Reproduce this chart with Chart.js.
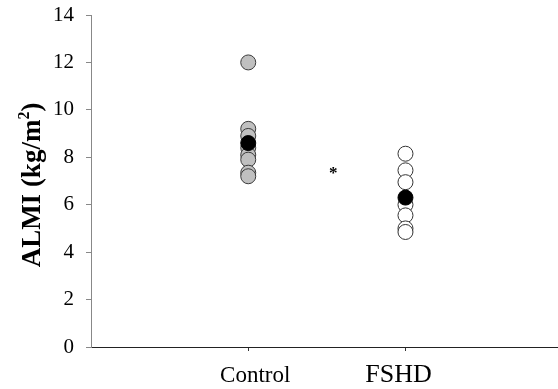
<!DOCTYPE html>
<html>
<head>
<meta charset="utf-8">
<script src="https://cdn.jsdelivr.net/npm/chart.js@4"></script>
<style>
  html, body { margin: 0; padding: 0; background: #fff; }
  #wrap { width: 558px; height: 389px; }
</style>
</head>
<body>
<div id="wrap"><canvas id="almiChart"></canvas></div>
<script>
// groups and their x position on the plot
var groups = ['Control', 'FSHD'];
var groupPos = [1, 2];

// individual subject values (kg/m2)
var controlValues = [12.0, 9.2, 8.9, 8.4, 8.1, 7.9, 7.35, 7.2];
var fshdValues = [8.15, 7.45, 6.95, 6.0, 5.55, 5.0, 4.85];

// group means
var meanValues = [8.6, 6.3];

// y axis ticks
var yTicks = [0, 2, 4, 6, 8, 10, 12, 14];

// significance mark between the groups
var sigMark = { x: 1.54, y: 7.3, text: '*' };

var serif = "'Liberation Serif', 'Times New Roman', serif";

function toPoints(x, values) {
    return values.map(v => ({ x: x, y: v }));
}

// group names under the x axis (each one sits a bit off its tick)
var groupLabelStyle = [
    { size: 23, shift: 7 },
    { size: 26, shift: -7 }
];

var labelPlugin = {
    id: 'labelPlugin',
    afterDraw(chart) {
        var ctx = chart.ctx;
        var xs = chart.scales.x;
        var area = chart.chartArea;
        ctx.save();
        ctx.fillStyle = '#000';
        ctx.textAlign = 'center';
        ctx.textBaseline = 'alphabetic';
        groups.forEach((g, i) => {
            var st = groupLabelStyle[i];
            ctx.font = st.size + 'px ' + serif;
            ctx.fillText(g, xs.getPixelForValue(groupPos[i]) + st.shift, area.bottom + 35);
        });

        // y axis title with a real superscript
        var main = 'ALMI (kg/m', sup = '2', tail = ')';
        var bigFont = 'bold 27px ' + serif, supFont = 'bold 16px ' + serif;
        ctx.font = bigFont;
        var w1 = ctx.measureText(main).width, w3 = ctx.measureText(tail).width;
        ctx.font = supFont;
        var w2 = ctx.measureText(sup).width;
        var total = w1 + w2 + w3;
        ctx.translate(40, (area.top + area.bottom) / 2 + 4);
        ctx.rotate(-Math.PI / 2);
        ctx.textAlign = 'left';
        var x0 = -total / 2;
        ctx.font = bigFont;
        ctx.fillText(main, x0, 0);
        ctx.font = supFont;
        ctx.fillText(sup, x0 + w1, -11);
        ctx.font = bigFont;
        ctx.fillText(tail, x0 + w1 + w2, 0);
        ctx.restore();
    },
    afterDatasetsDraw(chart) {
        var ctx = chart.ctx;
        var px = chart.scales.x.getPixelForValue(sigMark.x);
        var py = chart.scales.y.getPixelForValue(sigMark.y);
        ctx.save();
        ctx.fillStyle = '#000';
        ctx.font = 'bold 17px ' + serif;
        ctx.textAlign = 'center';
        ctx.textBaseline = 'middle';
        ctx.fillText(sigMark.text, px, py);
        ctx.restore();
    }
};

var chart = new Chart(document.getElementById('almiChart'), {
    type: 'scatter',
    data: {
        datasets: [
            {
                label: groups[0],
                data: toPoints(groupPos[0], controlValues),
                backgroundColor: '#c0c0c0',
                borderColor: '#3a3a3a',
                borderWidth: 1,
                pointRadius: 7.5,
                order: 1
            },
            {
                label: groups[1],
                data: toPoints(groupPos[1], fshdValues),
                backgroundColor: '#ffffff',
                borderColor: '#333333',
                borderWidth: 1,
                pointRadius: 7.5,
                order: 1
            },
            {
                label: 'Mean',
                data: groupPos.map((x, i) => ({ x: x, y: meanValues[i] })),
                backgroundColor: '#000000',
                borderColor: '#000000',
                borderWidth: 1,
                pointRadius: 7.5,
                order: 0
            }
        ]
    },
    options: {
        responsive: true,
        maintainAspectRatio: false,
        animation: false,
        events: [],
        layout: { autoPadding: false, padding: { top: 15, right: 0, left: 0, bottom: 0 } },
        plugins: {
            legend: { display: false },
            tooltip: { enabled: false }
        },
        scales: {
            x: {
                type: 'linear',
                min: 0,
                max: 2.97,
                afterBuildTicks(scale) {
                    scale.ticks = groupPos.map(v => ({ value: v }));
                },
                afterFit(scale) { scale.height = 42; },
                grid: { drawOnChartArea: false, tickLength: 4, color: '#333' },
                border: { color: '#222', width: 1 },
                ticks: { display: false }
            },
            y: {
                min: 0,
                max: 14,
                afterBuildTicks(scale) {
                    scale.ticks = yTicks.map(v => ({ value: v }));
                },
                afterFit(scale) {
                    scale.width = 91;
                    scale.paddingTop = 0;
                    scale.paddingBottom = 0;
                },
                grid: { drawOnChartArea: false, tickLength: 5, color: '#888' },
                border: { color: '#888', width: 1 },
                ticks: {
                    color: '#000',
                    padding: 12,
                    font: { family: serif, size: 21 }
                }
            }
        }
    },
    plugins: [labelPlugin]
});
</script>
</body>
</html>
